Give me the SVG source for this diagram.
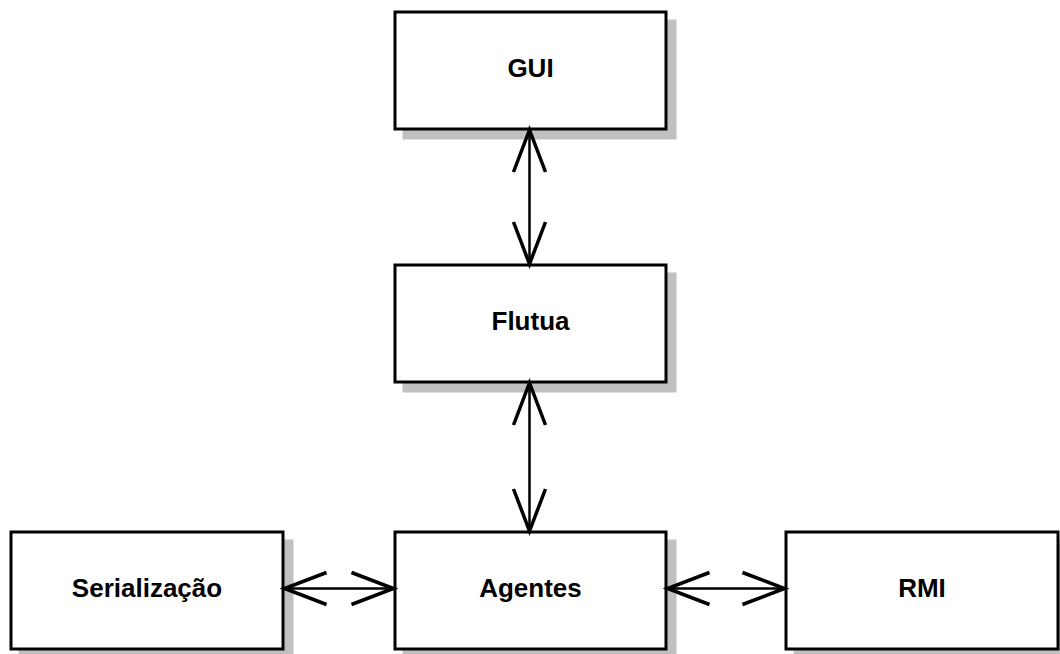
<svg xmlns="http://www.w3.org/2000/svg" width="1060" height="654" viewBox="0 0 1060 654">
  <style>
    .shadow { fill: #c0c0c0; stroke: #c0c0c0; stroke-width: 3; }
    .box { fill: #ffffff; stroke: #000000; stroke-width: 3; }
    .label { font-family: "Liberation Sans", Arial, sans-serif; font-size: 26px; font-weight: bold; fill: #000000; text-anchor: middle; }
    .link { fill: none; stroke: #000000; stroke-width: 2.5; }
    .head { fill: none; stroke: #000000; stroke-width: 3.5; stroke-linecap: butt; stroke-linejoin: miter; }
  </style>
  <defs>
    <marker id="openArrow" markerUnits="userSpaceOnUse" viewBox="-46 -20 50 40" refX="0" refY="0" markerWidth="50" markerHeight="40" orient="auto-start-reverse" overflow="visible">
      <path class="head" d="M -42 -16 L 0 0 L -42 16"/>
    </marker>
  </defs>
  <rect width="1060" height="654" fill="#ffffff"/>

  <g id="gui">
    <rect class="shadow" x="404" y="21" width="271" height="117"/>
    <rect class="box" x="395" y="12" width="271" height="117"/>
    <text class="label" x="530.5" y="77">GUI</text>
  </g>

  <g id="flutua">
    <rect class="shadow" x="404" y="274" width="271" height="117"/>
    <rect class="box" x="395" y="265" width="271" height="117"/>
    <text class="label" x="530.5" y="330">Flutua</text>
  </g>

  <g id="agentes">
    <rect class="shadow" x="404" y="541" width="271" height="117"/>
    <rect class="box" x="395" y="532" width="271" height="117"/>
    <text class="label" x="530.5" y="597">Agentes</text>
  </g>

  <g id="serializacao">
    <rect class="shadow" x="20" y="541" width="272" height="117"/>
    <rect class="box" x="11" y="532" width="272" height="117"/>
    <text class="label" x="147" y="597">Serialização</text>
  </g>

  <g id="rmi">
    <rect class="shadow" x="795" y="541" width="272" height="117"/>
    <rect class="box" x="786" y="532" width="272" height="117"/>
    <text class="label" x="922" y="597">RMI</text>
  </g>

  <g id="connectors">
    <line class="link" x1="529.5" y1="130" x2="529.5" y2="264" marker-start="url(#openArrow)" marker-end="url(#openArrow)"/>
    <line class="link" x1="529.5" y1="383" x2="529.5" y2="531" marker-start="url(#openArrow)" marker-end="url(#openArrow)"/>
    <line class="link" x1="284.5" y1="588.5" x2="393.5" y2="588.5" marker-start="url(#openArrow)" marker-end="url(#openArrow)"/>
    <line class="link" x1="667.5" y1="588.5" x2="784.5" y2="588.5" marker-start="url(#openArrow)" marker-end="url(#openArrow)"/>
  </g>
</svg>
